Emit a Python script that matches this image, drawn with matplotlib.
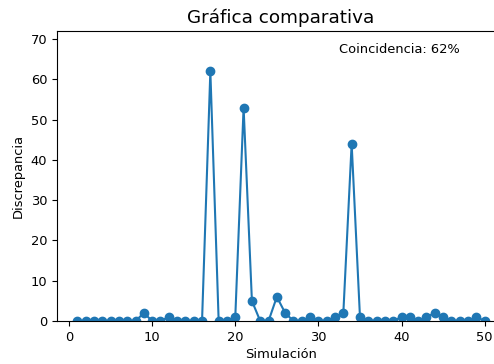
import matplotlib
matplotlib.use("Agg")
import matplotlib.pyplot as plt

# datos de la simulación
simulacion = list(range(1, 51))
discrepancia = [0, 0, 0, 0, 0, 0, 0, 0, 2, 0,
                0, 1, 0, 0, 0, 0, 62, 0, 0, 1,
                53, 5, 0, 0, 6, 2, 0, 0, 1, 0,
                0, 1, 2, 44, 1, 0, 0, 0, 0, 1,
                1, 0, 1, 2, 1, 0, 0, 0, 1, 0]
coincidencia = 62

plt.rcParams["font.size"] = 9.4

fig = plt.figure(figsize=(4.94, 3.64), dpi=100)
ax = fig.add_axes([57 / 494, 1 - 321 / 364, 448 / 494, 290 / 364])

ax.plot(simulacion, discrepancia, marker="o", color="#1f77b4",
        markersize=6, linewidth=1.5)
ax.set_ylim(0, 72)
ax.set_xlim(-1.45, 52.45)

ax.set_title("Gráfica comparativa", fontsize=13.2)
ax.set_xlabel("Simulación", labelpad=3)
ax.set_ylabel("Discrepancia")
ax.text(32.5, 67.3, "Coincidencia: %d%%" % coincidencia, va="center")

plt.savefig("out.png", dpi=100)
plt.close()
